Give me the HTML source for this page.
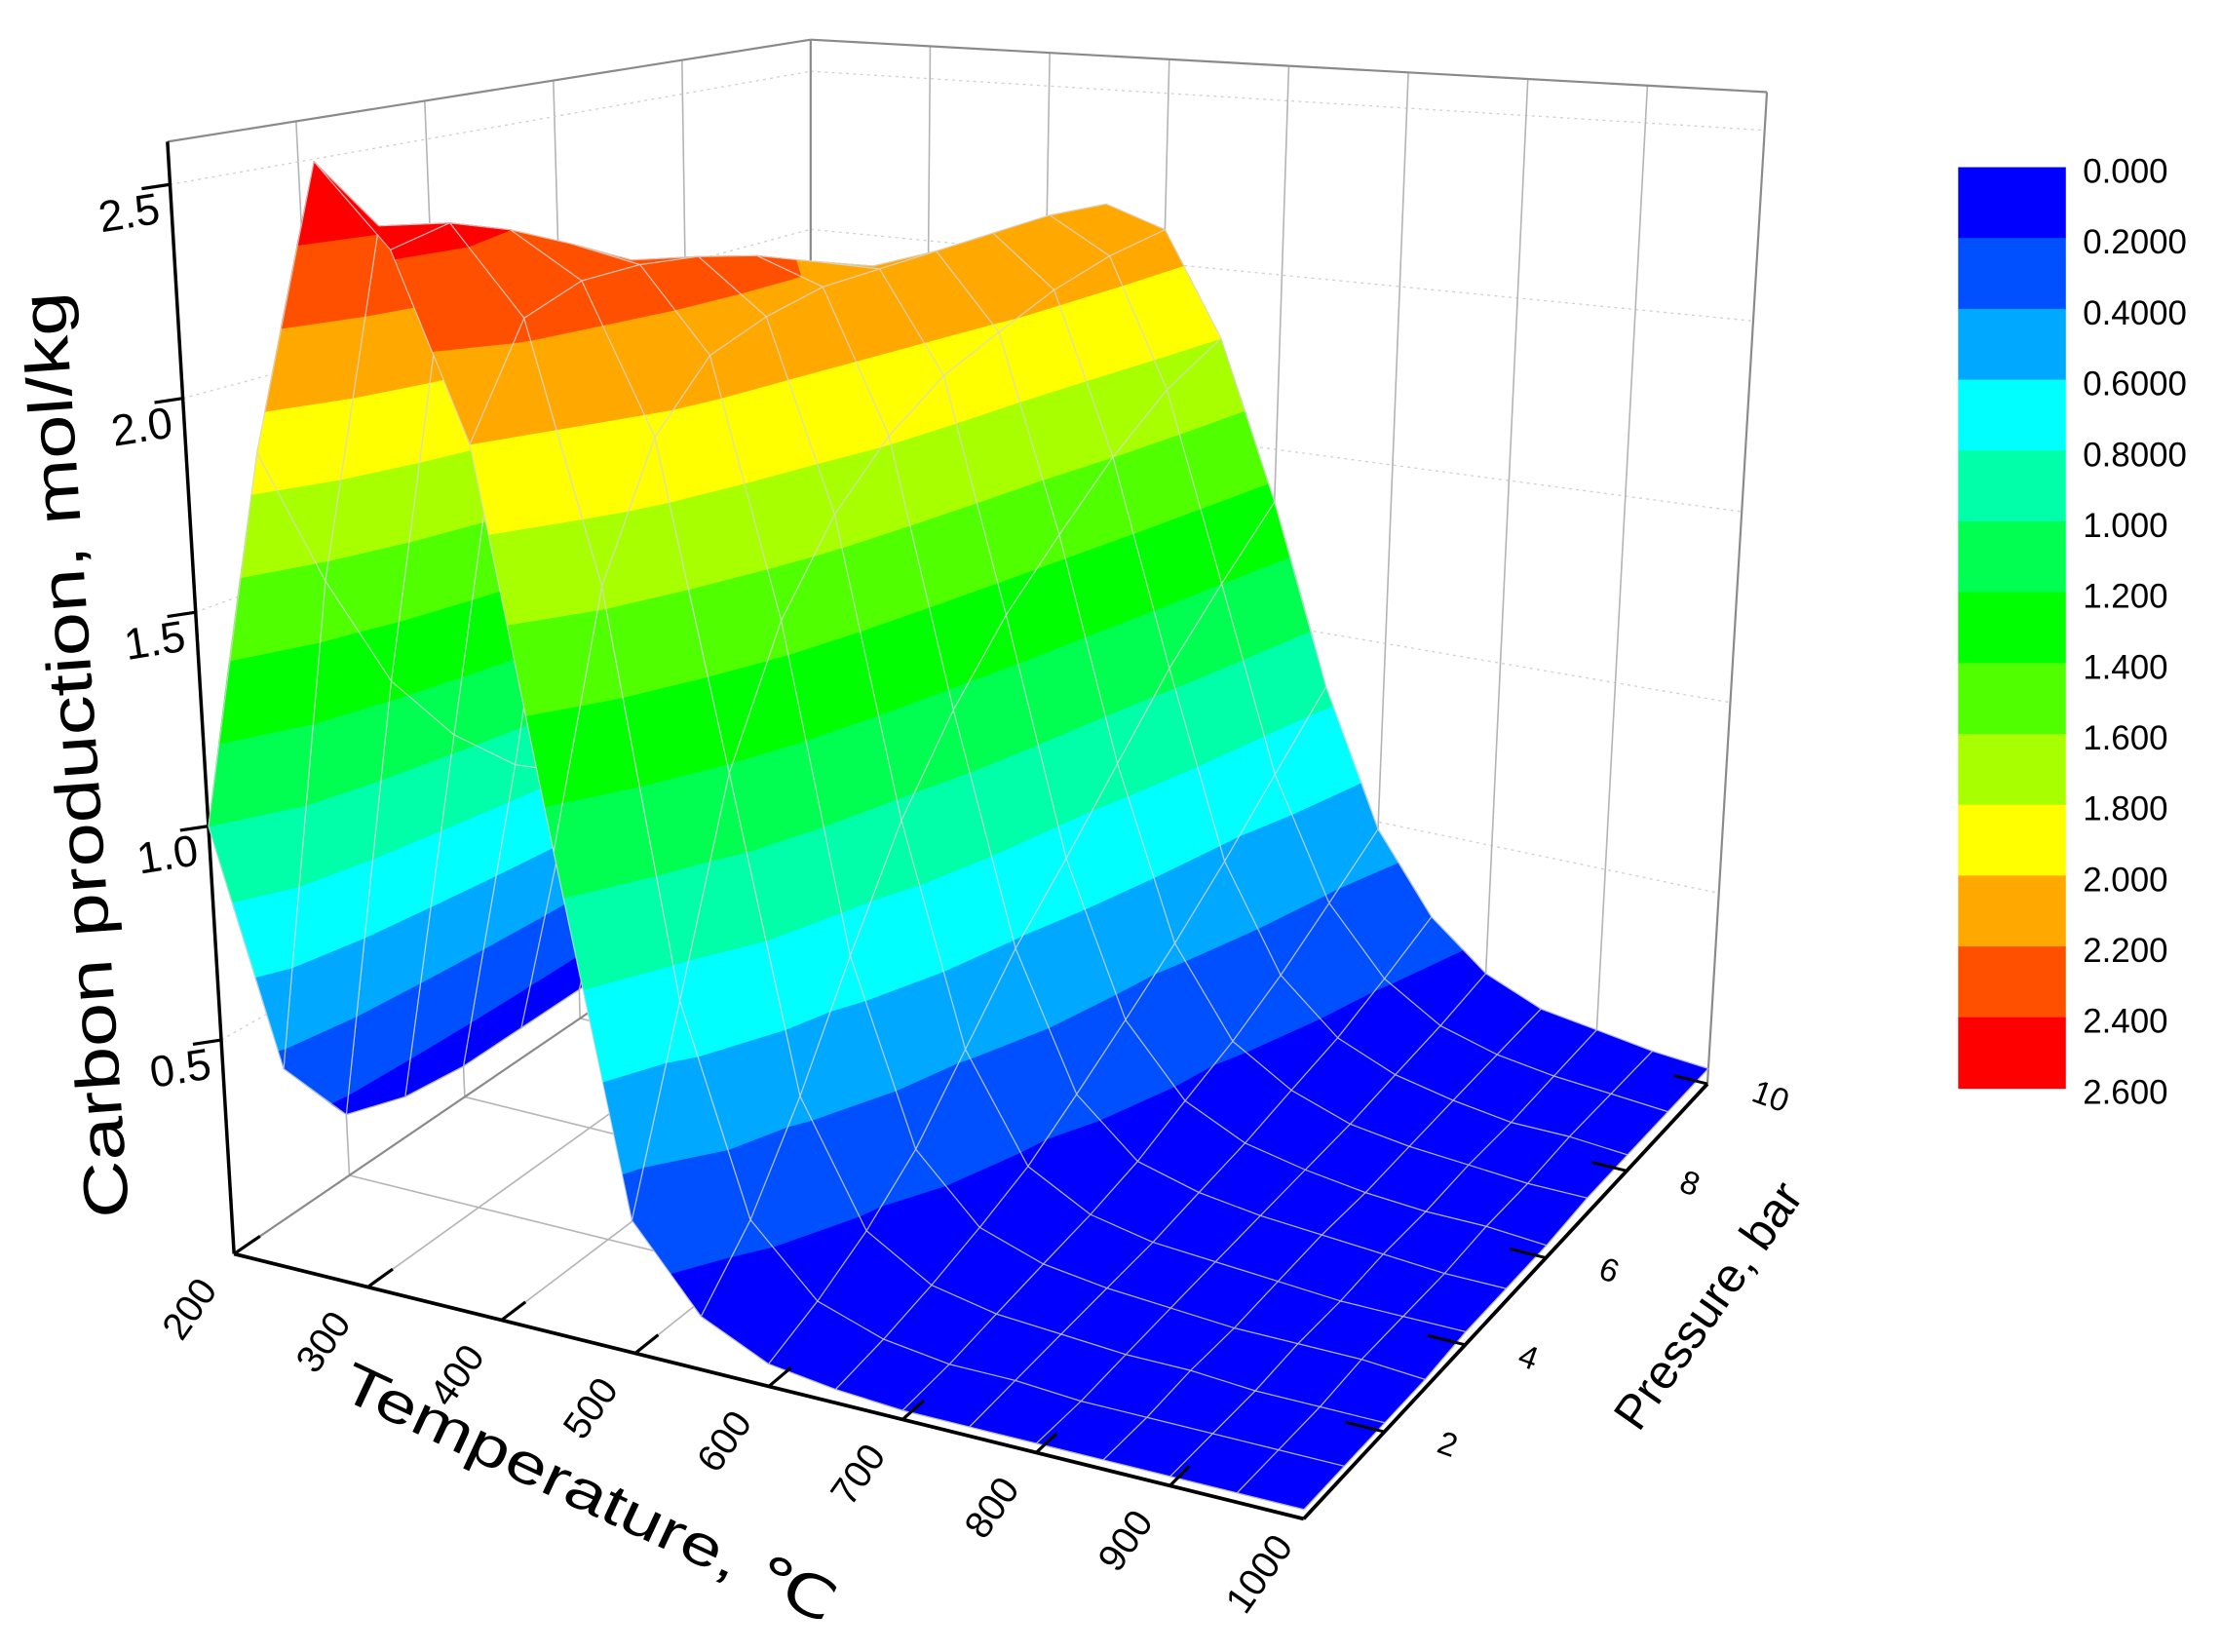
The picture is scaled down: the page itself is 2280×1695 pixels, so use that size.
<!DOCTYPE html>
<html>
<head>
<meta charset="utf-8">
<style>
  html,body{margin:0;padding:0;background:#fff;}
  svg{display:block;}
  text{font-family:"Liberation Sans", "DejaVu Sans", sans-serif;fill:#000;}
</style>
</head>
<body>
<svg id="chart" width="2280" height="1695" viewBox="0 0 1568 1166" xmlns="http://www.w3.org/2000/svg">
  <g id="grid"></g>
  <g id="surface"></g>
  <g id="axes"></g>
  <g id="colorbar"></g>
  <text x="0" y="0" font-size="44" text-anchor="middle" textLength="655" lengthAdjust="spacingAndGlyphs" transform="translate(68,532) rotate(-94)">Carbon production, mol/kg</text>
  <text x="0" y="0" font-size="40" text-anchor="middle" textLength="380" lengthAdjust="spacingAndGlyphs" transform="translate(410,1066) rotate(25)">Temperature, ℃</text>
  <text x="0" y="0" font-size="34" text-anchor="middle" transform="translate(1215,928) rotate(-55)">Pressure, bar</text>
</svg>
<script>
const temps = [200,250,300,350,400,450,500,550,600,650,700,750,800,850,900,950,1000];
const pressures = [0,1,2,3,4,5,6,7,8,9,10];
const zP0  = [1.00,1.90,2.60,2.42,2.00,1.10,0.30,0.12,0.05,0.03,0.02,0.02,0.02,0.02,0.02,0.02,0.02];
const zP1  = [0.35,1.55,2.42,2.45,2.25,1.65,0.72,0.25,0.10,0.05,0.03,0.03,0.02,0.02,0.02,0.02,0.02];
const zP2  = [0.15,1.25,2.25,2.40,2.30,1.95,1.18,0.45,0.17,0.08,0.05,0.04,0.03,0.03,0.02,0.02,0.02];
const zP3  = [0.10,1.05,2.05,2.33,2.30,2.10,1.48,0.70,0.27,0.12,0.07,0.05,0.04,0.03,0.03,0.03,0.02];
const zP4  = [0.08,0.90,1.85,2.25,2.28,2.15,1.68,0.95,0.42,0.17,0.09,0.06,0.05,0.04,0.03,0.03,0.03];
const zP5  = [0.08,0.80,1.70,2.15,2.24,2.18,1.82,1.15,0.58,0.25,0.12,0.08,0.06,0.05,0.04,0.03,0.03];
const zP6  = [0.08,0.75,1.55,2.05,2.18,2.18,1.92,1.32,0.72,0.34,0.17,0.10,0.07,0.05,0.04,0.04,0.03];
const zP7  = [0.08,0.70,1.45,1.95,2.12,2.18,1.98,1.46,0.88,0.44,0.22,0.13,0.08,0.06,0.05,0.04,0.04];
const zP8  = [0.08,0.68,1.38,1.85,2.05,2.18,2.04,1.60,1.05,0.56,0.29,0.16,0.10,0.07,0.05,0.05,0.04];
const zP9  = [0.08,0.66,1.32,1.78,1.98,2.18,2.08,1.72,1.20,0.70,0.38,0.21,0.12,0.08,0.06,0.05,0.04];
const zP10 = [0.08,0.64,1.28,1.72,1.92,2.16,2.10,1.80,1.35,0.85,0.48,0.27,0.15,0.09,0.07,0.05,0.04];
const zRows = [zP0,zP1,zP2,zP3,zP4,zP5,zP6,zP7,zP8,zP9,zP10];
const levels = [0,0.2,0.4,0.6,0.8,1.0,1.2,1.4,1.6,1.8,2.0,2.2,2.4,2.6];
const levelLabels = ["0.000","0.2000","0.4000","0.6000","0.8000","1.000","1.200","1.400","1.600","1.800","2.000","2.200","2.400","2.600"];
const bandColors = ["#0000FF","#0050FF","#00A8FF","#00FFFF","#00FFA8","#00FF50","#00FF00","#50FF00","#A8FF00","#FFFF00","#FFA800","#FF5000","#FF0000"];
const zTicks = [0.5,1.0,1.5,2.0,2.5];
const tTicks = [200,300,400,500,600,700,800,900,1000];
const pTicks = [2,4,6,8,10];

const NS = "http://www.w3.org/2000/svg";
const T0=200,T1=1000,P0=0,P1=10,Z0=0,Z1=2.6;
const A=[165,885],B=[920,1072],C=[1205,765],D=[572,608];
const E=[118,100],F=[945,212],G=[1247,65],H=[572,28];
function bil(a,b,c,d,t,p){
  return [a[0]*(1-t)*(1-p)+b[0]*t*(1-p)+c[0]*t*p+d[0]*(1-t)*p,
          a[1]*(1-t)*(1-p)+b[1]*t*(1-p)+c[1]*t*p+d[1]*(1-t)*p];
}
function tN(T){return (T-T0)/(T1-T0);}
function pN(P){return (P-P0)/(P1-P0);}
function zN(z){return (z-Z0)/(Z1-Z0);}
function proj(T,P,z){
  const t=tN(T),p=pN(P),zz=zN(z);
  const f=bil(A,B,C,D,t,p), u=bil(E,F,G,H,t,p);
  return [f[0]+(u[0]-f[0])*zz, f[1]+(u[1]-f[1])*zz];
}
function mk(tag,attrs,parent){
  const el=document.createElementNS(NS,tag);
  for(const k in attrs) el.setAttribute(k,attrs[k]);
  parent.appendChild(el);
  return el;
}
function line(p,q,style,parent,name){
  const el=mk('line',{x1:p[0].toFixed(2),y1:p[1].toFixed(2),x2:q[0].toFixed(2),y2:q[1].toFixed(2),style:style},parent);
  
  
  return el;
}
const grid=document.getElementById('grid');
const gStyle='stroke:#b4b4b4;stroke-width:1.1';
const dStyle='stroke:#d0d0d0;stroke-width:0.9;stroke-dasharray:2,3';
pTicks.forEach(P=>{ if(P<10) line(proj(T0,P,Z0),proj(T0,P,Z1),gStyle,grid,'left-wall-gridline'); });
zTicks.forEach(z=>{ line(proj(T0,P0,z),proj(T0,P1,z),dStyle,grid,'left-wall-z-gridline'); line(proj(T0,P1,z),proj(T1,P1,z),dStyle,grid,'back-wall-z-gridline'); });
tTicks.forEach(T=>{ if(T>200&&T<1000){ line(proj(T,P1,Z0),proj(T,P1,Z1),gStyle,grid,'back-wall-gridline'); line(proj(T,P0,Z0),proj(T,P1,Z0),gStyle,grid,'floor-gridline-t'); } });
pTicks.forEach(P=>{ if(P<10) line(proj(T0,P,Z0),proj(T1,P,Z0),gStyle,grid,'floor-gridline-p'); });
const eStyle='stroke:#8a8a8a;stroke-width:1.5';
line(proj(T0,P0,Z1),proj(T0,P1,Z1),eStyle,grid,'box-edge');
line(proj(T0,P1,Z1),proj(T1,P1,Z1),eStyle,grid,'box-edge');
line(proj(T1,P1,Z1),proj(T1,P1,Z0),eStyle,grid,'box-edge');
line(proj(T0,P1,Z1),proj(T0,P1,Z0),eStyle,grid,'box-edge');
line(proj(T0,P0,Z0),proj(T0,P1,Z0),eStyle,grid,'box-edge');
line(proj(T0,P1,Z0),proj(T1,P1,Z0),eStyle,grid,'box-edge');
line(proj(T0,P0,Z0),proj(T0,P0,Z1),'stroke:#000;stroke-width:2.4',grid,'z-axis-line');
zTicks.forEach((z,i)=>{
  const a=proj(T0,P0,z);
  line(a,[a[0]-20,a[1]+3],'stroke:#000;stroke-width:2.2',grid,'z-tick');
  const tx=mk('text',{x:0,y:0,'font-size':31,'text-anchor':'end',transform:`translate(${(a[0]-6).toFixed(1)},${(a[1]+27).toFixed(1)}) rotate(-9)`},grid);
  tx.textContent=z.toFixed(1);
  
  
});

const surf=document.getElementById('surface');
function clipPoly(poly,lev,keepAbove){
  const out=[];
  for(let i=0;i<poly.length;i++){
    const a=poly[i],b=poly[(i+1)%poly.length];
    const ina=keepAbove?a[2]>=lev:a[2]<=lev, inb=keepAbove?b[2]>=lev:b[2]<=lev;
    if(ina) out.push(a);
    if(ina!==inb){
      const s=(lev-a[2])/(b[2]-a[2]);
      out.push([a[0]+(b[0]-a[0])*s,a[1]+(b[1]-a[1])*s,lev]);
    }
  }
  return out;
}
const eye=[2.1,-1.4,2.3];
const quads=[];
for(let j=0;j<pressures.length-1;j++){
  for(let i=0;i<temps.length-1;i++){
    const v=[[temps[i],pressures[j],zRows[j][i]],[temps[i+1],pressures[j],zRows[j][i+1]],
             [temps[i+1],pressures[j+1],zRows[j+1][i+1]],[temps[i],pressures[j+1],zRows[j+1][i]]];
    let ct=0,cp=0,cz=0; v.forEach(q=>{ct+=tN(q[0]);cp+=pN(q[1]);cz+=zN(q[2])*0.9;});
    ct/=4;cp/=4;cz/=4;
    const d=Math.hypot(ct-eye[0],cp-eye[1],cz-eye[2]);
    quads.push({v,d});
  }
}
quads.sort((a,b)=>b.d-a.d);
quads.forEach(q=>{
  const g=mk('g',{},surf);
  
  
  for(let k=0;k<bandColors.length;k++){
    let poly=clipPoly(q.v,levels[k],true);
    if(poly.length<3) continue;
    if(k<bandColors.length-1) poly=clipPoly(poly,levels[k+1],false);
    if(poly.length<3) continue;
    const pts=poly.map(r=>proj(r[0],r[1],r[2]).map(n=>n.toFixed(2)).join(',')).join(' ');
    const pg=mk('polygon',{points:pts,fill:bandColors[k],stroke:bandColors[k],'stroke-width':0.7,'stroke-linejoin':'round'},g);
    
    
  }
  const pts=q.v.map(r=>proj(r[0],r[1],r[2]).map(n=>n.toFixed(2)).join(',')).join(' ');
  const mesh=mk('polygon',{points:pts,fill:'none',stroke:'#d6d6d6','stroke-width':0.8,'stroke-opacity':0.85},g);
  
  
});

const axes=document.getElementById('axes');
line(proj(T0,P0,Z0),proj(T1,P0,Z0),'stroke:#000;stroke-width:2.6',axes,'x-axis-line');
line(proj(T1,P0,Z0),proj(T1,P1,Z0),'stroke:#000;stroke-width:2.6',axes,'y-axis-line');
tTicks.forEach(T=>{
  const a=proj(T,P0,Z0), b=proj(T,P0+0.45,Z0);
  line(a,b,'stroke:#000;stroke-width:2.2',axes,'x-tick');
  const tx=mk('text',{x:0,y:0,'font-size':27,'text-anchor':'middle',transform:`translate(${(a[0]-24).toFixed(1)},${(a[1]+44).toFixed(1)}) rotate(-55)`},axes);
  tx.textContent=String(T);
  
  
});
pTicks.forEach(P=>{
  const a=proj(T1,P,Z0), b=proj(T1-30,P,Z0);
  line(a,b,'stroke:#000;stroke-width:2',axes,'y-tick');
  const tx=mk('text',{x:0,y:0,'font-size':23,'text-anchor':'middle',transform:`translate(${(a[0]+42).toFixed(1)},${(a[1]+16).toFixed(1)}) rotate(20)`},axes);
  tx.textContent=String(P);
  
  
});

const cb=document.getElementById('colorbar');
const cbX=1382,cbY=118,cbW=76,cbH=50;
bandColors.forEach((c,k)=>{
  const r=mk('rect',{x:cbX,y:cbY+k*cbH,width:cbW,height:cbH+0.5,fill:c},cb);
  
  
});
levelLabels.forEach((s,k)=>{
  const tx=mk('text',{x:1470,y:cbY+k*cbH+11,'font-size':24},cb);
  tx.textContent=s;
  
  
});
</script>
</body>
</html>
